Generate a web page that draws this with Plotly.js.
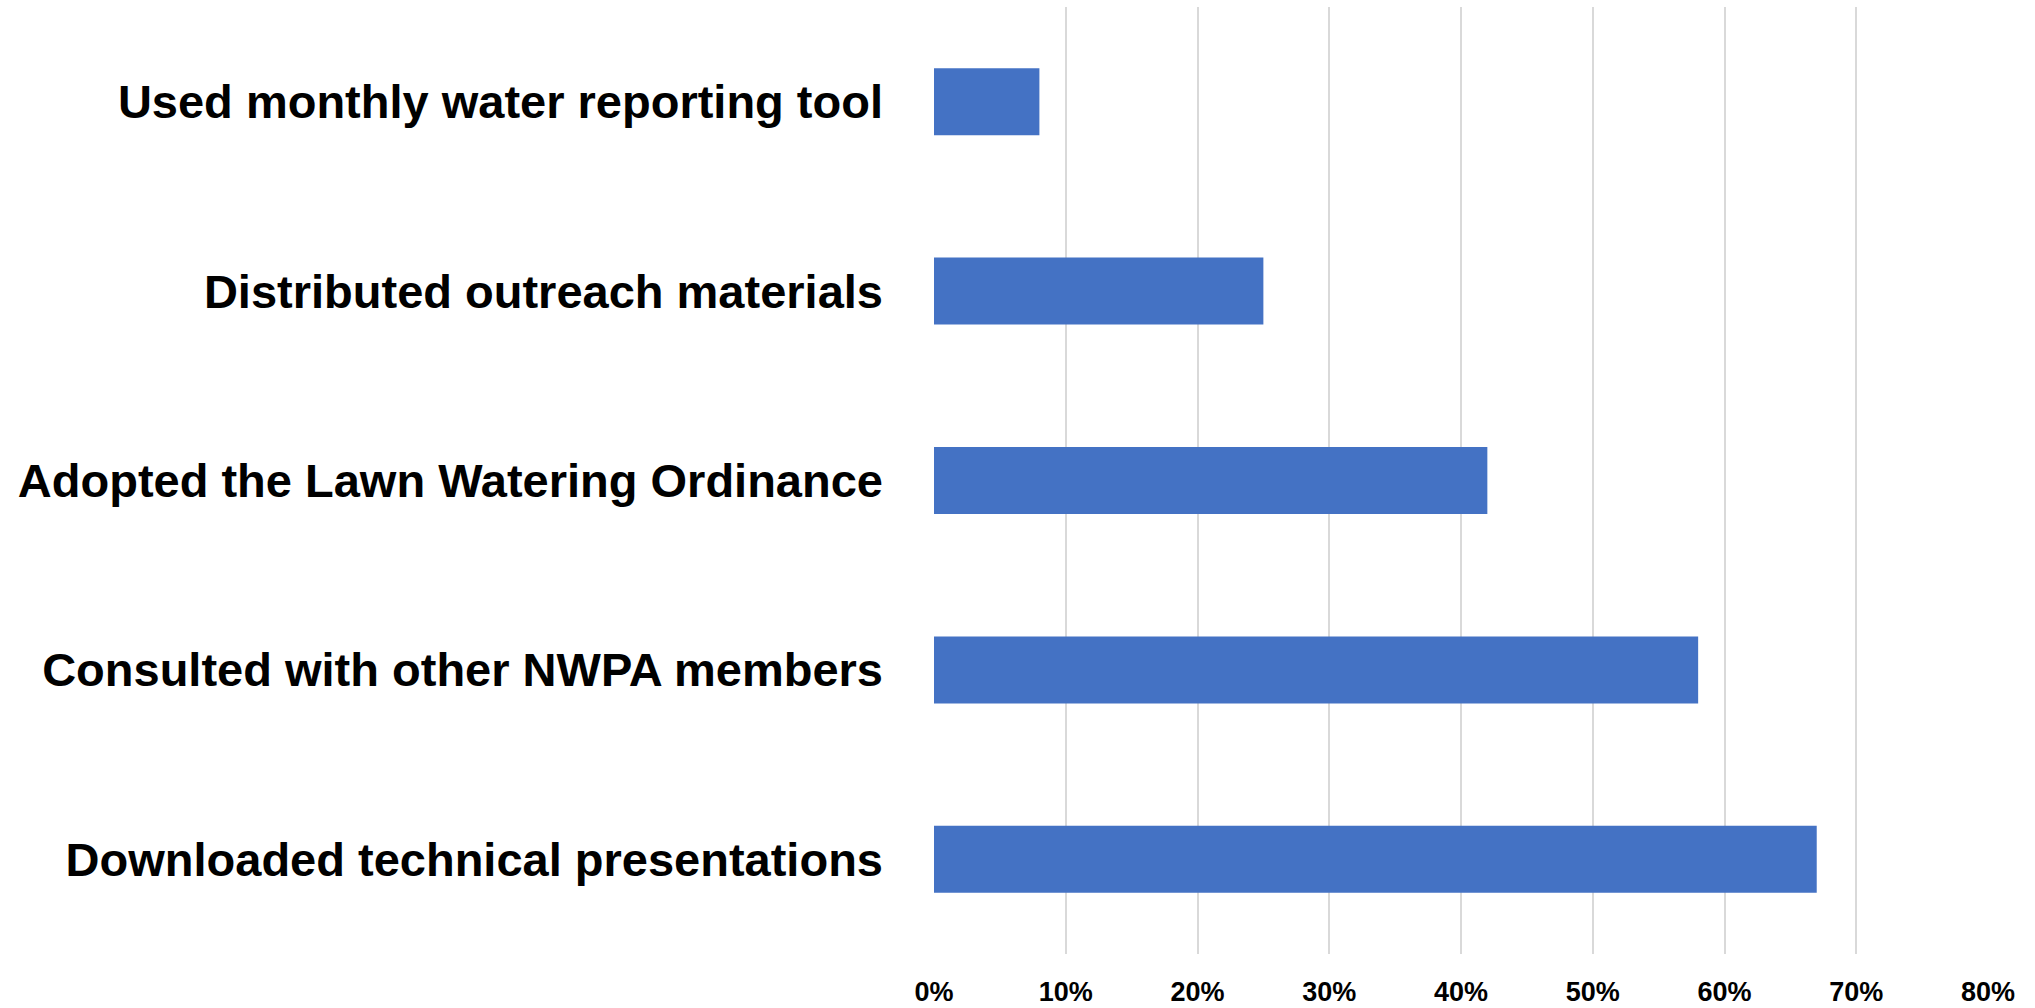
<!DOCTYPE html>
<html>
<head>
<meta charset="utf-8">
<script src="https://cdn.plot.ly/plotly-3.0.1.min.js"></script>
<style>html,body{margin:0;padding:0;background:#fff;}#chart{width:2035px;height:1008px;}</style>
</head>
<body>
<div id="chart"></div>
<script>
const categories = [
  "Used monthly water reporting tool",
  "Distributed outreach materials",
  "Adopted the Lawn Watering Ordinance",
  "Consulted with other NWPA members",
  "Downloaded technical presentations"
];
const values = [0.08, 0.25, 0.42, 0.58, 0.67];
const tickVals = [0, 0.1, 0.2, 0.3, 0.4, 0.5, 0.6, 0.7, 0.8];
const tickText = ["0%", "10%", "20%", "30%", "40%", "50%", "60%", "70%", "80%"];

const fontFam = '"Liberation Sans", Arial, sans-serif';

Plotly.newPlot('chart', [{
  type: 'bar',
  orientation: 'h',
  y: categories,
  x: values,
  marker: {color: '#4472C4', line: {width: 0}},
  hoverinfo: 'x+y'
}], {
  width: 2035,
  height: 1008,
  margin: {l: 934, r: 47, t: 7, b: 54, pad: 0},
  paper_bgcolor: '#ffffff',
  plot_bgcolor: '#ffffff',
  bargap: 0.646,
  showlegend: false,
  xaxis: {
    range: [0, 0.8],
    tickvals: tickVals,
    ticktext: tickText,
    showgrid: true,
    gridcolor: '#d9d9d9',
    gridwidth: 2,
    zeroline: false,
    showline: false,
    ticks: '',
    ticklabelstandoff: 19,
    tickfont: {family: fontFam, size: 27, color: '#000000', weight: 'bold'},
    fixedrange: true
  },
  yaxis: {
    autorange: 'reversed',
    type: 'category',
    showgrid: false,
    zeroline: false,
    showline: false,
    ticks: '',
    ticklabelstandoff: 50,
    tickfont: {family: fontFam, size: 47, color: '#000000', weight: 'bold'},
    fixedrange: true
  }
}, {displayModeBar: false, staticPlot: true});
</script>
</body>
</html>
